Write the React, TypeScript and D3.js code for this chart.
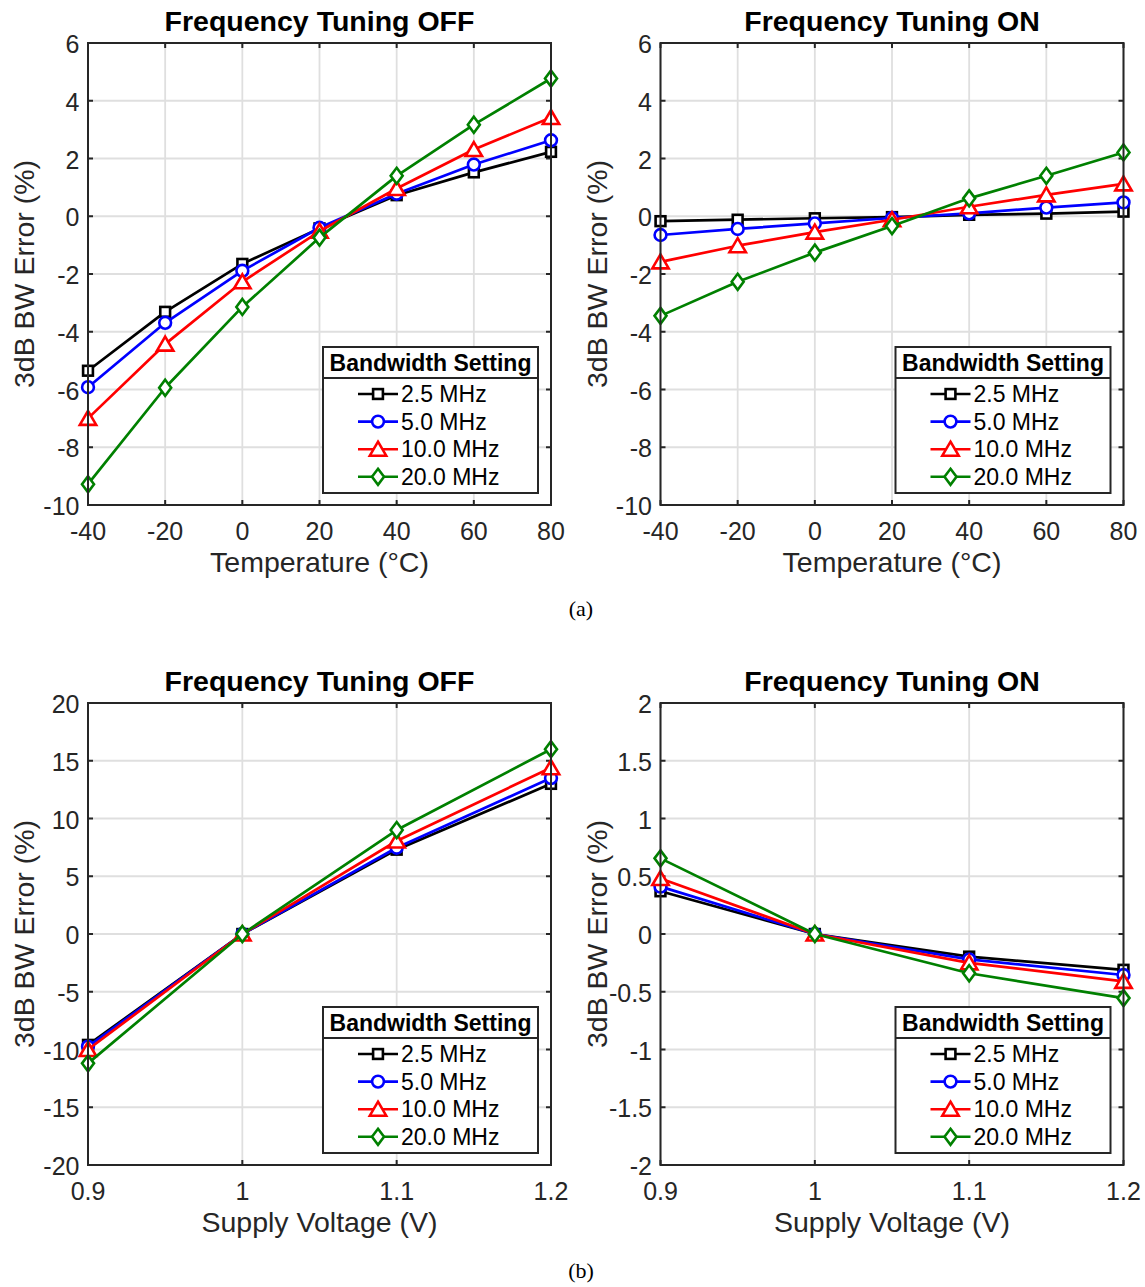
import React from 'react';
import * as d3 from 'd3';

// ---- data ----
const bandwidths = ['2.5 MHz', '5.0 MHz', '10.0 MHz', '20.0 MHz'];
const seriesColors = ['#000000', '#0000ff', '#ff0000', '#008000'];
const markerKinds = ['square', 'circle', 'triangle', 'diamond'];

const temperatures = [-40, -20, 0, 20, 40, 60, 80];
const voltages = [0.9, 1.0, 1.1, 1.2];

// temperature sweep, tuning OFF
const tempOff25 = [-5.35, -3.31, -1.65, -0.42, 0.73, 1.52, 2.23];
const tempOff50 = [-5.92, -3.69, -1.89, -0.40, 0.78, 1.79, 2.63];
const tempOff100 = [-7.0, -4.43, -2.27, -0.52, 0.96, 2.31, 3.42];
const tempOff200 = [-9.28, -5.94, -3.14, -0.74, 1.40, 3.17, 4.77];

// temperature sweep, tuning ON
const tempOn25 = [-0.17, -0.12, -0.07, -0.03, 0.05, 0.09, 0.16];
const tempOn50 = [-0.65, -0.44, -0.25, -0.06, 0.10, 0.30, 0.48];
const tempOn100 = [-1.58, -1.02, -0.55, -0.12, 0.33, 0.74, 1.12];
const tempOn200 = [-3.45, -2.27, -1.26, -0.34, 0.62, 1.40, 2.21];

// supply sweep, tuning OFF
const vddOff25 = [-9.6, 0, 7.3, 13.0];
const vddOff50 = [-9.75, 0, 7.47, 13.5];
const vddOff100 = [-10.0, 0, 8.05, 14.4];
const vddOff200 = [-11.2, 0, 9.0, 16.0];

// supply sweep, tuning ON
const vddOn25 = [0.37, 0, -0.196, -0.31];
const vddOn50 = [0.41, 0, -0.22, -0.355];
const vddOn100 = [0.48, 0, -0.25, -0.41];
const vddOn200 = [0.655, 0, -0.34, -0.555];

const tempTicksY = [-10, -8, -6, -4, -2, 0, 2, 4, 6];
const vddOffTicksY = [-20, -15, -10, -5, 0, 5, 10, 15, 20];
const vddOnTicksY = [-2, -1.5, -1, -0.5, 0, 0.5, 1, 1.5, 2];

const font = 'Liberation Sans, Arial, Helvetica, sans-serif';
const axisColor = '#262626';

type Panel = {
  title: string;
  xLabel: string;
  left: number;
  top: number;
  xs: number[];
  xDomain: [number, number];
  xTicks: number[];
  yDomain: [number, number];
  yTicks: number[];
  series: number[][];
};

const W = 463;
const H = 462;

const panels: Panel[] = [
  { title: 'Frequency Tuning OFF', xLabel: 'Temperature (°C)', left: 88, top: 43, xs: temperatures, xDomain: [-40, 80], xTicks: temperatures, yDomain: [-10, 6], yTicks: tempTicksY, series: [tempOff25, tempOff50, tempOff100, tempOff200] },
  { title: 'Frequency Tuning ON', xLabel: 'Temperature (°C)', left: 660.5, top: 43, xs: temperatures, xDomain: [-40, 80], xTicks: temperatures, yDomain: [-10, 6], yTicks: tempTicksY, series: [tempOn25, tempOn50, tempOn100, tempOn200] },
  { title: 'Frequency Tuning OFF', xLabel: 'Supply Voltage (V)', left: 88, top: 703, xs: voltages, xDomain: [0.9, 1.2], xTicks: voltages, yDomain: [-20, 20], yTicks: vddOffTicksY, series: [vddOff25, vddOff50, vddOff100, vddOff200] },
  { title: 'Frequency Tuning ON', xLabel: 'Supply Voltage (V)', left: 660.5, top: 703, xs: voltages, xDomain: [0.9, 1.2], xTicks: voltages, yDomain: [-2, 2], yTicks: vddOnTicksY, series: [vddOn25, vddOn50, vddOn100, vddOn200] },
];

const Marker = ({ kind, x, y, color }: { kind: string; x: number; y: number; color: string }) => {
  const common = { fill: '#fff', stroke: color, strokeWidth: 2.6 };
  if (kind === 'square') return <rect x={x - 4.9} y={y - 4.9} width={9.8} height={9.8} {...common} />;
  if (kind === 'circle') return <circle cx={x} cy={y} r={5.9} {...common} />;
  if (kind === 'triangle')
    return <path d={`M${x},${y - 7.5}L${x + 8.2},${y + 6.5}L${x - 8.2},${y + 6.5}Z`} {...common} />;
  return <path d={`M${x},${y - 8}L${x + 6},${y}L${x},${y + 8}L${x - 6},${y}Z`} {...common} />;
};

const fmt = (v: number) => (Number.isInteger(v) ? String(v) : String(+v.toFixed(2)));

const Legend = ({ x, y }: { x: number; y: number }) => {
  const w = 215;
  const h = 146;
  return (
    <g transform={`translate(${x},${y})`}>
      <rect x={0} y={0} width={w} height={h} fill="#fff" stroke={axisColor} strokeWidth={2} />
      <line x1={0} x2={w} y1={31} y2={31} stroke={axisColor} strokeWidth={2} />
      <text x={w / 2} y={24} textAnchor="middle" fontFamily={font} fontWeight="bold" fontSize={23} fill="#000">
        Bandwidth Setting
      </text>
      {bandwidths.map((b, i) => {
        const ry = 47 + i * 27.6;
        return (
          <g key={b}>
            <line x1={35} x2={75} y1={ry} y2={ry} stroke={seriesColors[i]} strokeWidth={2.6} />
            <Marker kind={markerKinds[i]} x={55} y={ry} color={seriesColors[i]} />
            <text x={78} y={ry + 8} fontFamily={font} fontSize={23} fill="#000">
              {b}
            </text>
          </g>
        );
      })}
    </g>
  );
};

const PanelView = ({ p }: { p: Panel }) => {
  const x = d3.scaleLinear().domain(p.xDomain).range([0, W]);
  const y = d3.scaleLinear().domain(p.yDomain).range([H, 0]);
  const line = d3
    .line<number>()
    .x((_, i) => x(p.xs[i]))
    .y((d) => y(d));
  const tk = 5;
  return (
    <g transform={`translate(${p.left},${p.top})`}>
      <rect x={0} y={0} width={W} height={H} fill="#fff" />
      {/* grid */}
      {p.xTicks.map((t) => (
        <line key={'gx' + t} x1={x(t)} x2={x(t)} y1={0} y2={H} stroke="#dfdfdf" strokeWidth={1.8} />
      ))}
      {p.yTicks.map((t) => (
        <line key={'gy' + t} x1={0} x2={W} y1={y(t)} y2={y(t)} stroke="#dfdfdf" strokeWidth={1.8} />
      ))}
      {/* ticks */}
      {p.xTicks.map((t) => (
        <g key={'tx' + t}>
          <line x1={x(t)} x2={x(t)} y1={H} y2={H - tk} stroke={axisColor} strokeWidth={2} />
          <line x1={x(t)} x2={x(t)} y1={0} y2={tk} stroke={axisColor} strokeWidth={2} />
          <text x={x(t)} y={H + 34.5} textAnchor="middle" fontFamily={font} fontSize={25} fill={axisColor}>
            {fmt(t)}
          </text>
        </g>
      ))}
      {p.yTicks.map((t) => (
        <g key={'ty' + t}>
          <line x1={0} x2={tk} y1={y(t)} y2={y(t)} stroke={axisColor} strokeWidth={2} />
          <line x1={W} x2={W - tk} y1={y(t)} y2={y(t)} stroke={axisColor} strokeWidth={2} />
          <text x={-8.5} y={y(t) + 10} textAnchor="end" fontFamily={font} fontSize={25} fill={axisColor}>
            {fmt(t)}
          </text>
        </g>
      ))}
      {/* series */}
      {p.series.map((s, i) => (
        <g key={'s' + i}>
          <path d={line(s) || ''} fill="none" stroke={seriesColors[i]} strokeWidth={2.7} strokeLinejoin="round" />
          {s.map((v, j) => (
            <Marker key={j} kind={markerKinds[i]} x={x(p.xs[j])} y={y(v)} color={seriesColors[i]} />
          ))}
        </g>
      ))}
      <rect x={0} y={0} width={W} height={H} fill="none" stroke={axisColor} strokeWidth={2} />
      <Legend x={235} y={304} />
      <text x={W / 2} y={-12} textAnchor="middle" fontFamily={font} fontWeight="bold" fontSize={28.5} fill="#000">
        {p.title}
      </text>
      <text x={W / 2} y={H + 67} textAnchor="middle" fontFamily={font} fontSize={28.5} fill={axisColor}>
        {p.xLabel}
      </text>
      <text
        transform={`translate(${-54},${H / 2}) rotate(-90)`}
        textAnchor="middle"
        fontFamily={font}
        fontSize={28.5}
        fill={axisColor}
      >
        3dB BW Error (%)
      </text>
    </g>
  );
};

export default function App() {
  return (
    <svg
      width={1145}
      height={1287}
      style={{ position: 'absolute', left: 0, top: 0, background: '#fff' }}
      xmlns="http://www.w3.org/2000/svg"
    >
      <rect width={1145} height={1287} fill="#fff" />
      {panels.map((p, i) => (
        <PanelView key={i} p={p} />
      ))}
      <text x={581} y={616} textAnchor="middle" fontFamily="Liberation Serif, Times New Roman, serif" fontSize={22} fill="#000">
        (a)
      </text>
      <text x={581} y={1278} textAnchor="middle" fontFamily="Liberation Serif, Times New Roman, serif" fontSize={22} fill="#000">
        (b)
      </text>
    </svg>
  );
}
